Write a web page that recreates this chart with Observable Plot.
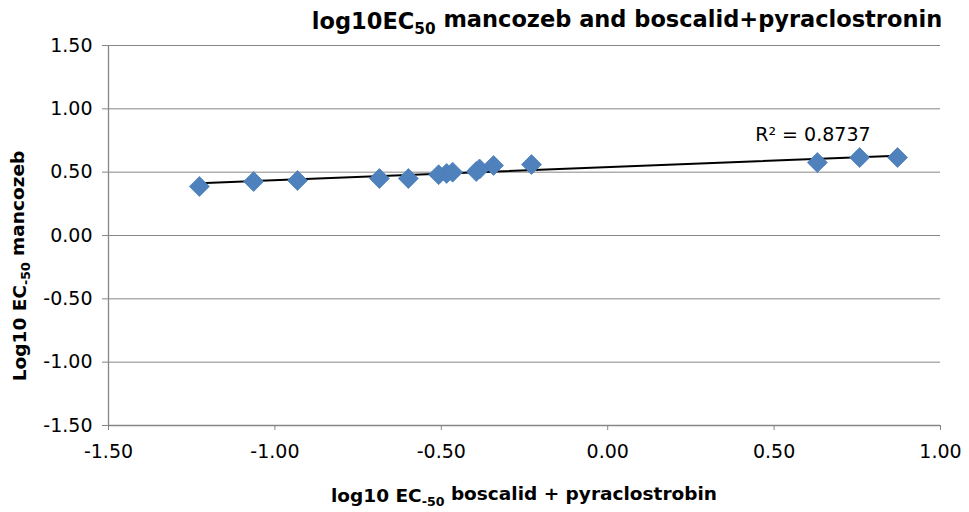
<!DOCTYPE html>
<html>
<head>
<meta charset="utf-8">
<script src="https://cdn.jsdelivr.net/npm/d3@7"></script>
<script src="https://cdn.jsdelivr.net/npm/@observablehq/plot@0.6"></script>
<style>
  html, body { margin: 0; padding: 0; background: #fff; }
  #chart { position: relative; width: 969px; height: 512px; }
</style>
</head>
<body>
<div id="chart"></div>
<script>
// Data
const xBoscalidPyra = [-1.227, -1.064, -0.932, -0.686, -0.599, -0.508, -0.484, -0.466, -0.395, -0.385, -0.343, -0.229, 0.630, 0.757, 0.871];
const yMancozeb     = [ 0.387,  0.426,  0.434,  0.450,  0.450,  0.480,  0.490,  0.500,  0.505,  0.525,  0.553,  0.560, 0.576, 0.615, 0.616];
const xTicks = [-1.5, -1.0, -0.5, 0.0, 0.5, 1.0];
const yTicks = [-1.5, -1.0, -0.5, 0.0, 0.5, 1.0, 1.5];
const r2Label = "R² = 0.8737";
const titleParts = [["log10EC", false], ["50", true], [" mancozeb and boscalid+pyraclostronin", false]];
const xLabelParts = [["log10 EC", false], ["-50", true], [" boscalid + pyraclostrobin", false]];
const yLabelParts = [["Log10 EC", false], ["-50", true], [" mancozeb", false]];

const data = xBoscalidPyra.map((x, i) => ({x, y: yMancozeb[i]}));
const fmt = d => d.toFixed(2);
const axisGray = "#868686";
const last = data[data.length - 1];

const svg = Plot.plot({
  width: 969,
  height: 512,
  marginLeft: 108,
  marginRight: 29,
  marginTop: 45,
  marginBottom: 87,
  style: {fontFamily: "DejaVu Sans", fontSize: "19px", color: "black", background: "white"},
  x: {domain: [-1.5, 1], label: null},
  y: {domain: [-1.5, 1.5], label: null},
  marks: [
    Plot.gridY(yTicks, {stroke: axisGray, strokeOpacity: 1, strokeWidth: 1}),
    Plot.ruleX([-1.5], {stroke: axisGray, strokeWidth: 1.3}),
    Plot.ruleY([-1.5], {stroke: axisGray, strokeWidth: 1.3}),
    Plot.axisX(xTicks, {tickSize: 5, tickPadding: 14, tickFormat: fmt, stroke: axisGray, fill: "black", fontSize: 19, label: null}),
    Plot.axisY(yTicks, {tickSize: 6, tickPadding: 10, tickFormat: fmt, stroke: axisGray, fill: "black", fontSize: 19, label: null}),
    Plot.linearRegressionY(data, {x: "x", y: "y", ci: 0, stroke: "black", strokeWidth: 2}),
    Plot.dot(data, {x: "x", y: "y", symbol: "diamond2", r: 9, fill: "#4F81BD", stroke: "#4A7EBB", strokeWidth: 0.75}),
    Plot.text([r2Label], {x: () => last.x, y: () => last.y, text: d => d, textAnchor: "end", dx: -27, dy: -23, fontSize: 19, fill: "black"})
  ]
});

document.getElementById("chart").appendChild(svg);

function addText(parts, attrs, fontSize) {
  const t = d3.select(svg).append("text")
    .attr("font-family", "DejaVu Sans")
    .attr("font-weight", "bold")
    .attr("font-size", fontSize)
    .attr("fill", "black");
  for (const [k, v] of Object.entries(attrs)) t.attr(k, v);
  let prevSub = false;
  for (const [s, sub] of parts) {
    const ts = t.append("tspan").text(s);
    if (sub && !prevSub) ts.attr("dy", "0.3em").attr("font-size", fontSize * 0.68);
    else if (!sub && prevSub) ts.attr("dy", "-0.3em");
    prevSub = sub;
  }
  return t;
}

addText(titleParts, {x: 627, y: 29, "text-anchor": "middle"}, 22.5);
addText(xLabelParts, {x: 524, y: 502, "text-anchor": "middle"}, 18.5);
addText(yLabelParts, {transform: "translate(26,266) rotate(-90)", "text-anchor": "middle"}, 18.5);
</script>
</body>
</html>
